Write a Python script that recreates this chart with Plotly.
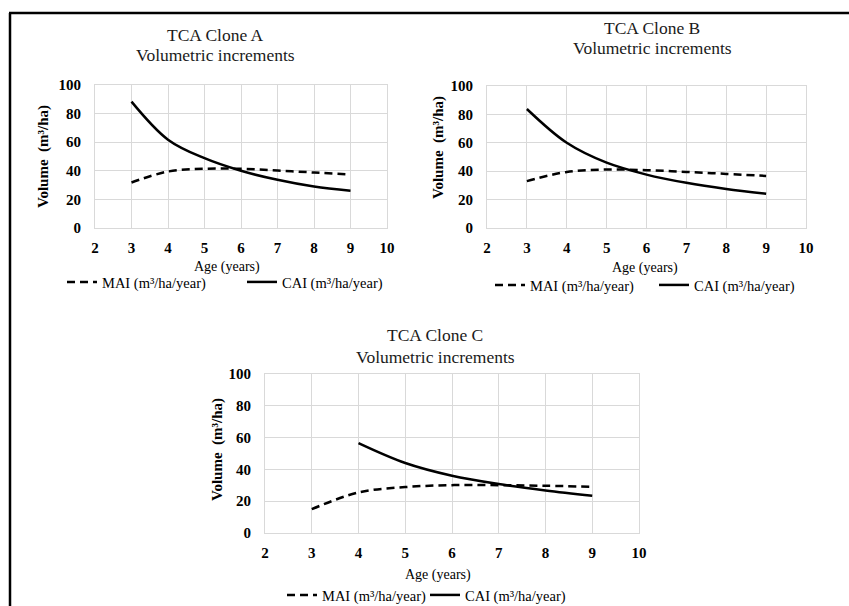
import plotly.graph_objects as go

W, H = 849, 606

ages = [3, 4, 5, 6, 7, 8, 9]
ages_c_cai = [4, 5, 6, 7, 8, 9]

mai_a = [31.8, 39.5, 41.4, 41.4, 40.2, 38.8, 37.4]
cai_a = [88.4, 61.8, 48.8, 40.0, 33.7, 29.0, 26.0]

mai_b = [33.0, 39.5, 41.2, 40.7, 39.5, 38.1, 36.7]
cai_b = [83.8, 60.0, 46.0, 37.6, 31.8, 27.5, 24.2]

mai_c = [15.0, 25.5, 28.9, 30.1, 30.1, 29.7, 29.1]
cai_c = [56.5, 44.0, 36.0, 30.8, 26.8, 23.4]

title_line1 = ["TCA Clone A", "TCA Clone B", "TCA Clone C"]
title_line2 = "Volumetric increments"
mai_name = "MAI (m³/ha/year)"
cai_name = "CAI (m³/ha/year)"
ytitle = "Volume  (m³/ha)"
xtitle = "Age (years)"
xticks = [2, 3, 4, 5, 6, 7, 8, 9, 10]
yticks = [0, 20, 40, 60, 80, 100]

SERIF = "Liberation Serif"

def px_x(v):
    return v / W

def px_y(v):
    return 1 - v / H

# panel geometry in page pixels
panels = [
    dict(l=95, r=387, t=85, b=228, title=(216, 35, 55), ytit=(43, 157), xtit=(227, 267), leg=(62, 282), legw=135),
    dict(l=487, r=806, t=86, b=228, title=(652, 28, 48), ytit=(438, 148), xtit=(645, 268), leg=(490, 285), legw=119),
    dict(l=265, r=639, t=374, b=533, title=(435, 335, 357), ytit=(217, 450), xtit=(438, 575), leg=(282, 595), legw=98),
]

data = [(ages, mai_a, ages, cai_a), (ages, mai_b, ages, cai_b), (ages, mai_c, ages_c_cai, cai_c)]

fig = go.Figure()
annotations = []
for i, (p, (xm, ym, xc, yc)) in enumerate(zip(panels, data)):
    n = "" if i == 0 else str(i + 1)
    leg = "legend" if i == 0 else f"legend{i + 1}"
    fig.add_trace(go.Scatter(x=xm, y=ym, mode="lines", name=mai_name, line_shape="spline",
                             line=dict(color="black", width=2.5, dash="8px,5px"),
                             xaxis=f"x{n}", yaxis=f"y{n}", legend=leg))
    fig.add_trace(go.Scatter(x=xc, y=yc, mode="lines", name=cai_name, line_shape="spline",
                             line=dict(color="black", width=2.5),
                             xaxis=f"x{n}", yaxis=f"y{n}", legend=leg))
    axcommon = dict(showgrid=True, gridcolor="#d9d9d9", gridwidth=1, showline=True, mirror=True,
                    linecolor="#d9d9d9", linewidth=1, zeroline=False, ticks="", automargin=False,
                    tickfont=dict(family=SERIF, size=15, color="black", weight="bold"),
                    fixedrange=True)
    fig.update_layout(**{
        f"xaxis{n}": dict(domain=[px_x(p["l"]), px_x(p["r"])], range=[2, 10], tickvals=xticks,
                          anchor=f"y{n}", ticklabelstandoff=6, **axcommon),
        f"yaxis{n}": dict(domain=[px_y(p["b"]), px_y(p["t"])], range=[0, 100], tickvals=yticks,
                          anchor=f"x{n}", ticklabelstandoff=10, **axcommon),
    })
    for txt, yy in ((title_line1[i], p["title"][1]), (title_line2, p["title"][2])):
        annotations.append(dict(text=txt, x=px_x(p["title"][0]), y=px_y(yy),
                                xref="paper", yref="paper", showarrow=False, xanchor="center", yanchor="middle",
                                font=dict(family=SERIF, size=17.5, color="#1a1a1a")))
    annotations.append(dict(text=ytitle, x=px_x(p["ytit"][0]), y=px_y(p["ytit"][1]), textangle=-90,
                            xref="paper", yref="paper", showarrow=False, xanchor="center", yanchor="middle",
                            font=dict(family=SERIF, size=15, color="black", weight="bold")))
    annotations.append(dict(text=xtitle, x=px_x(p["xtit"][0]), y=px_y(p["xtit"][1]),
                            xref="paper", yref="paper", showarrow=False, xanchor="center", yanchor="middle",
                            font=dict(family=SERIF, size=14, color="black")))
    fig.update_layout(**{leg: dict(orientation="h", x=px_x(p["leg"][0]), y=px_y(p["leg"][1]),
                                   xanchor="left", yanchor="middle", xref="paper", yref="paper",
                                   entrywidth=p["legw"], entrywidthmode="pixels", traceorder="normal",
                                   bgcolor="rgba(0,0,0,0)", itemclick=False, itemdoubleclick=False,
                                   font=dict(family=SERIF, size=14.5, color="black"))})

shapes = [
    dict(type="line", xref="paper", yref="paper", x0=px_x(9), x1=1.0, y0=px_y(13), y1=px_y(13),
         line=dict(color="black", width=2.5)),
    dict(type="line", xref="paper", yref="paper", x0=px_x(10), x1=px_x(10), y0=px_y(13), y1=0,
         line=dict(color="black", width=2.5)),
]

fig.update_layout(width=W, height=H, margin=dict(l=0, r=0, t=0, b=0, pad=0, autoexpand=False),
                  paper_bgcolor="white", plot_bgcolor="white", showlegend=True,
                  annotations=annotations, shapes=shapes,
                  font=dict(family=SERIF, color="black"))

fig.write_html("out.html", config={"displayModeBar": False},
               post_script="document.body.style.margin='0';document.body.style.overflow='hidden';")
